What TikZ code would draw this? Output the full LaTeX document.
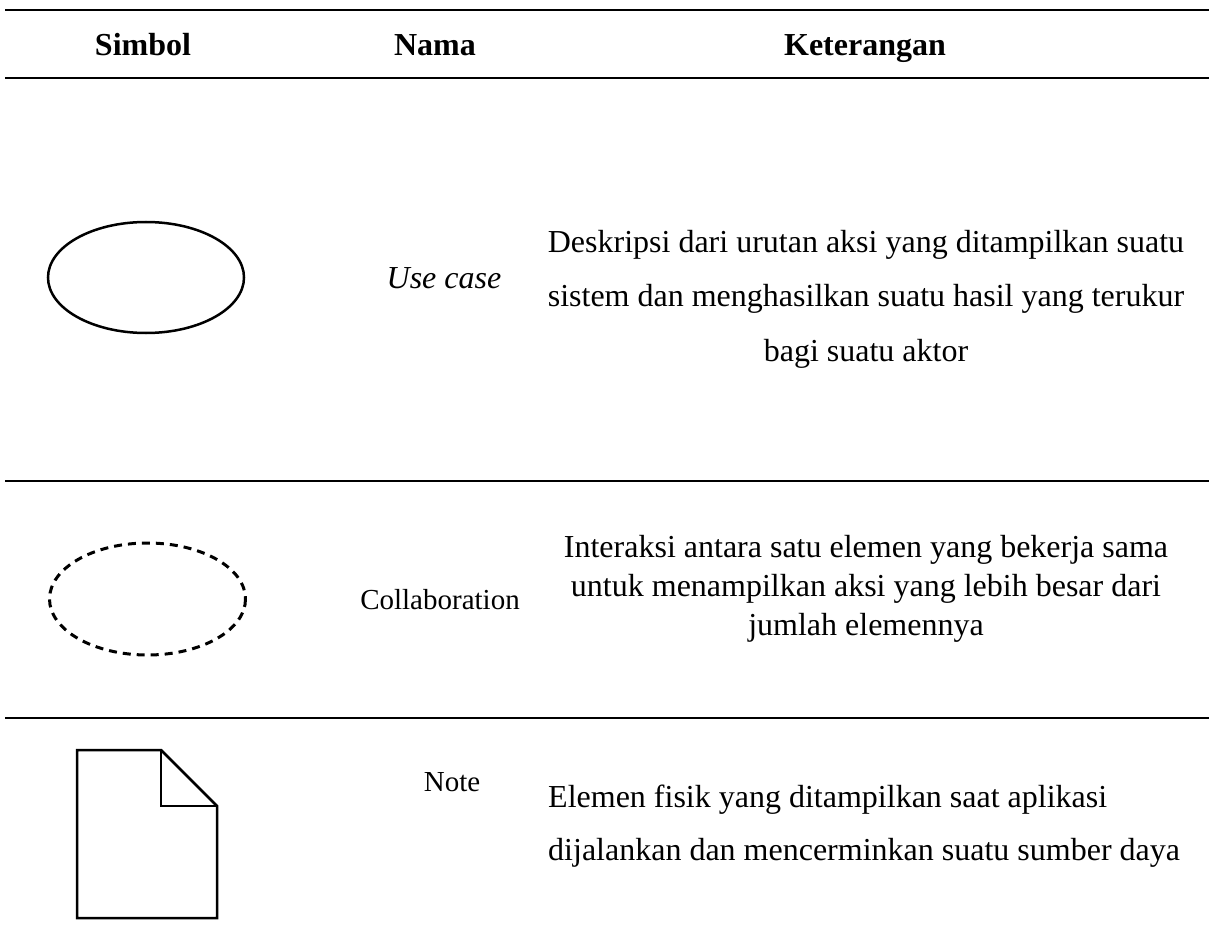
\documentclass[tikz,border=0pt]{standalone}
\usepackage{fontspec}
\setmainfont{Liberation Serif}
\begin{document}
\begin{tikzpicture}[x=1pt,y=-1pt,
  rule/.style={line width=1.5pt},
  head/.style={anchor=base,font=\fontsize{32}{38}\selectfont\bfseries,inner sep=0pt},
  txt/.style={anchor=base,font=\fontsize{32}{38}\selectfont,inner sep=0pt},
  lbl/.style={anchor=base,font=\fontsize{29}{35}\selectfont,inner sep=0pt},
  sym/.style={line width=2.5pt},
  dsym/.style={line width=3pt,dash pattern=on 8pt off 6pt}]
\useasboundingbox (0,0) rectangle (1209,949);

% table rules
\coordinate (r0a) at (5,10);   \coordinate (r0b) at (1209,10);
\coordinate (r1a) at (5,78);   \coordinate (r1b) at (1209,78);
\coordinate (r2a) at (5,481);  \coordinate (r2b) at (1209,481);
\coordinate (r3a) at (5,718);  \coordinate (r3b) at (1209,718);
\draw[rule] (r0a) -- (r0b);
\draw[rule] (r1a) -- (r1b);
\draw[rule] (r2a) -- (r2b);
\draw[rule] (r3a) -- (r3b);

% header
\node[head] (hSimbol) at (143,56) {Simbol};
\node[head] (hNama) at (435,56) {Nama};
\node[head] (hKet) at (865,56) {Keterangan};

% row 1: use case
\draw[sym] (146,277.5) ellipse [x radius=98, y radius=55.5];
\node[txt,font=\fontsize{32}{38}\selectfont\itshape] (nUse) at (444,289) {Use case};
\node[txt] (d1a) at (866,253) {Deskripsi dari urutan aksi yang ditampilkan suatu};
\node[txt] (d1b) at (866,307) {sistem dan menghasilkan suatu hasil yang terukur};
\node[txt] (d1c) at (866,361) {bagi suatu aktor};

% row 2: collaboration
\draw[dsym] (147.5,599) ellipse [x radius=98, y radius=56];
\node[lbl] (nCol) at (440,609) {Collaboration};
\node[txt] (d2a) at (866,557) {Interaksi antara satu elemen yang bekerja sama};
\node[txt] (d2b) at (866,596) {untuk menampilkan aksi yang lebih besar dari};
\node[txt] (d2c) at (866,635) {jumlah elemennya};

% row 3: note
\draw[sym,line join=miter] (77,750) -- (161,750) -- (217,806) -- (217,918) -- (77,918) -- cycle;
\draw[sym,line join=miter] (161,750) -- (161,806) -- (217,806);
\node[lbl] (nNote) at (452,791) {Note};
\node[txt,anchor=base west] (d3a) at (548,807) {Elemen fisik yang ditampilkan saat aplikasi};
\node[txt,anchor=base west] (d3b) at (548,860) {dijalankan dan mencerminkan suatu sumber daya};
\end{tikzpicture}
\end{document}
